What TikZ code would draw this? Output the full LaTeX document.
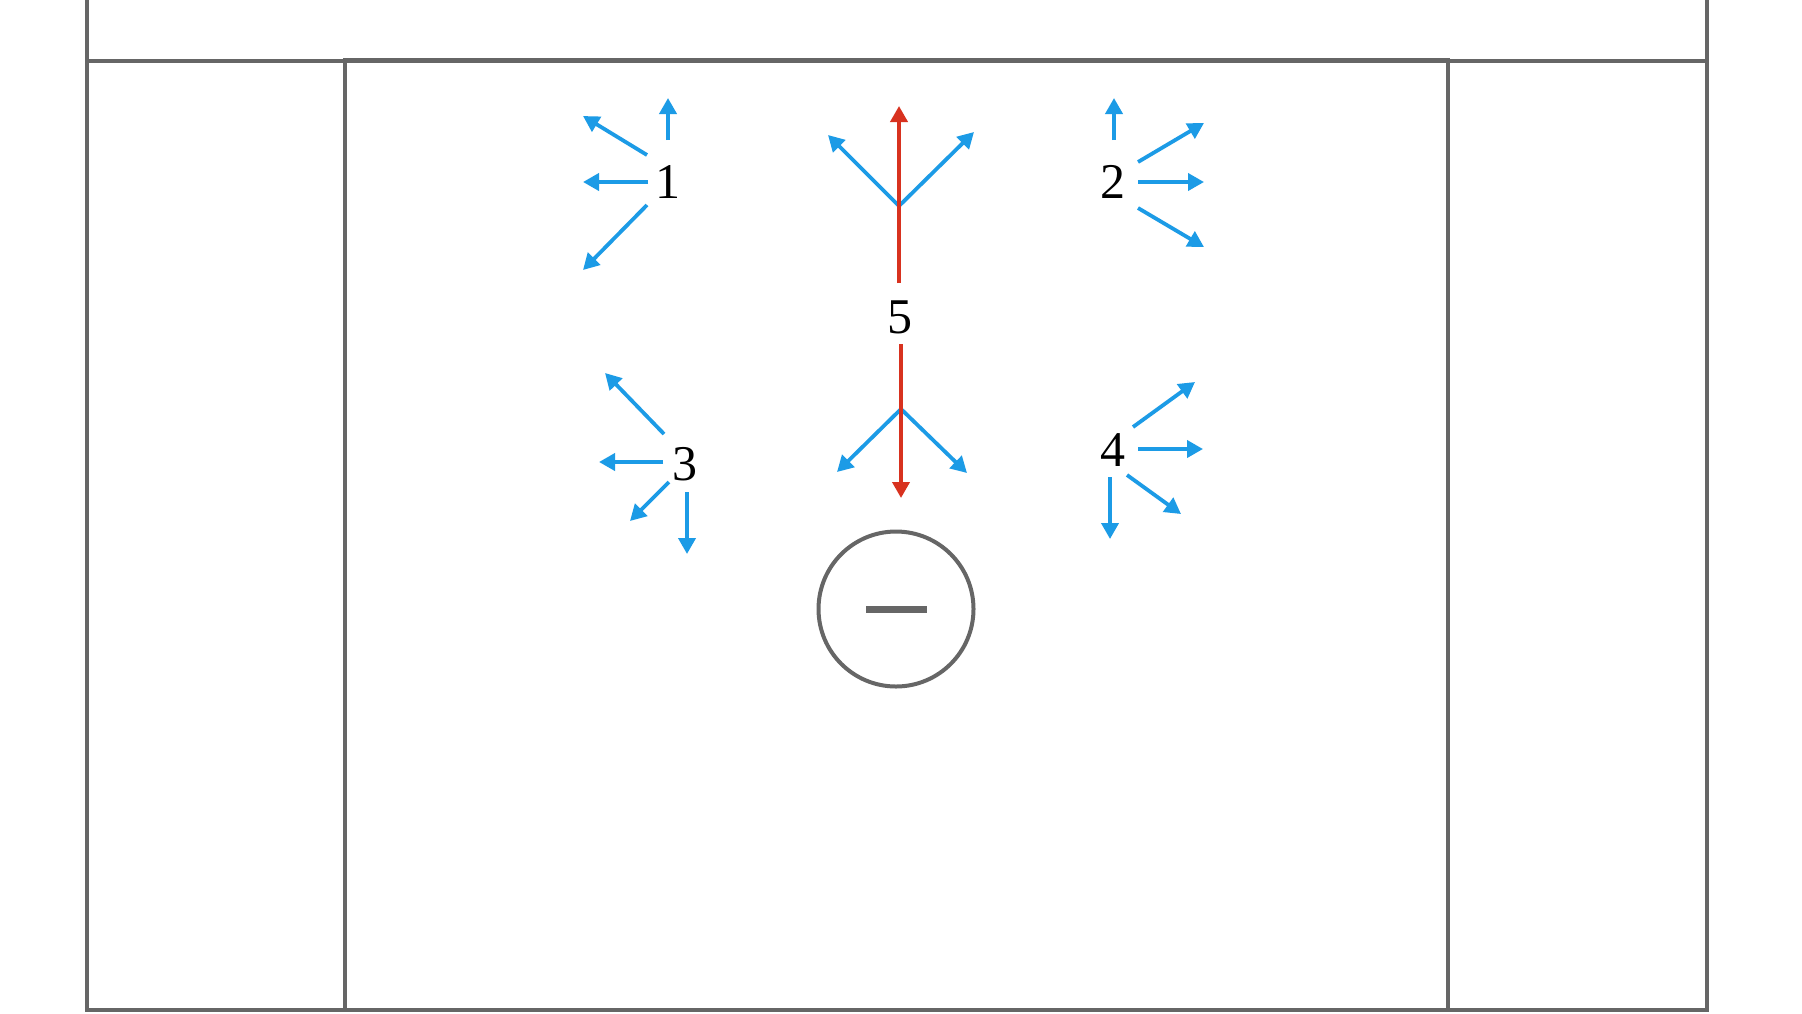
\documentclass[tikz,border=0pt]{standalone}
\usepackage{fontspec}
\setmainfont{Liberation Serif}
\usetikzlibrary{arrows.meta}
\definecolor{fieldgray}{HTML}{666666}
\definecolor{skyblue}{HTML}{1C9BE6}
\definecolor{runred}{HTML}{D8321F}
\tikzset{
  fieldline/.style={draw=fieldgray, line width=1.8pt},
  bl/.style={draw=skyblue, line width=1.9pt, -{Triangle[length=8pt,width=8.5pt]}},
  rd/.style={draw=runred, line width=1.9pt, -{Triangle[length=8pt,width=8.5pt]}},
  num/.style={font=\fontsize{25}{29}\selectfont, inner sep=0pt, text=black},
}
\begin{document}
\begin{tikzpicture}[x=0.5pt,y=-0.5pt]
\useasboundingbox (0,0) rectangle (1802,1013);
\fill[white] (0,0) rectangle (1802,1013);
% field
\draw[fieldline] (87,0) -- (87,1010) -- (1707,1010) -- (1707,0);
\draw[fieldline] (87,61) -- (1707,61);
\draw[fieldline] (345,60) rectangle (1448,1010);
% goal
\node[draw=fieldgray, line width=2pt, circle, minimum size=155*0.5pt, inner sep=0pt] (goal) at (896,609) {};
\fill[fieldgray] (866,605.5) rectangle (927,612.5);
% labels
\node[num] (n1) at (668,182) {1};
\node[num] (n2) at (1113,182) {2};
\node[num] (n3) at (685,464) {3};
\node[num] (n4) at (1113,450) {4};
\node[num] (n5) at (900,317) {5};
% group 1
\coordinate (a1s) at (668,140); \coordinate (a1e) at (668,98);
\coordinate (b1s) at (647,155); \coordinate (b1e) at (583,116);
\coordinate (c1s) at (648,182); \coordinate (c1e) at (583,182);
\coordinate (d1s) at (647,205); \coordinate (d1e) at (583,270);
\draw[bl] (a1s) -- (a1e);
\draw[bl] (b1s) -- (b1e);
\draw[bl] (c1s) -- (c1e);
\draw[bl] (d1s) -- (d1e);
% group 2
\coordinate (a2s) at (1114,140); \coordinate (a2e) at (1114,98);
\coordinate (b2s) at (1138,162); \coordinate (b2e) at (1204,123);
\coordinate (c2s) at (1138,182); \coordinate (c2e) at (1204,182);
\coordinate (d2s) at (1138,208); \coordinate (d2e) at (1204,247);
\draw[bl] (a2s) -- (a2e);
\draw[bl] (b2s) -- (b2e);
\draw[bl] (c2s) -- (c2e);
\draw[bl] (d2s) -- (d2e);
% group 3
\coordinate (a3s) at (664,434); \coordinate (a3e) at (605,373);
\coordinate (b3s) at (663,462); \coordinate (b3e) at (599,462);
\coordinate (c3s) at (669,482); \coordinate (c3e) at (630,521);
\coordinate (d3s) at (687,492); \coordinate (d3e) at (687,554);
\draw[bl] (a3s) -- (a3e);
\draw[bl] (b3s) -- (b3e);
\draw[bl] (c3s) -- (c3e);
\draw[bl] (d3s) -- (d3e);
% group 4
\coordinate (a4s) at (1133,427); \coordinate (a4e) at (1195,382);
\coordinate (b4s) at (1138,449); \coordinate (b4e) at (1203,449);
\coordinate (c4s) at (1127,475); \coordinate (c4e) at (1181,514);
\coordinate (d4s) at (1110,477); \coordinate (d4e) at (1110,539);
\draw[bl] (a4s) -- (a4e);
\draw[bl] (b4s) -- (b4e);
\draw[bl] (c4s) -- (c4e);
\draw[bl] (d4s) -- (d4e);
% group 5
\coordinate (up5s) at (899,283); \coordinate (up5e) at (899,106);
\coordinate (j5u) at (899,206);
\coordinate (ul5) at (828,135); \coordinate (ur5) at (974,132);
\coordinate (dn5s) at (901,344); \coordinate (dn5e) at (901,498);
\coordinate (j5d) at (901,409);
\coordinate (dl5) at (837,472); \coordinate (dr5) at (967,473);
\draw[bl] (j5u) -- (ul5);
\draw[bl] (j5u) -- (ur5);
\draw[bl] (j5d) -- (dl5);
\draw[bl] (j5d) -- (dr5);
\draw[rd] (up5s) -- (up5e);
\draw[rd] (dn5s) -- (dn5e);
\end{tikzpicture}
\end{document}
